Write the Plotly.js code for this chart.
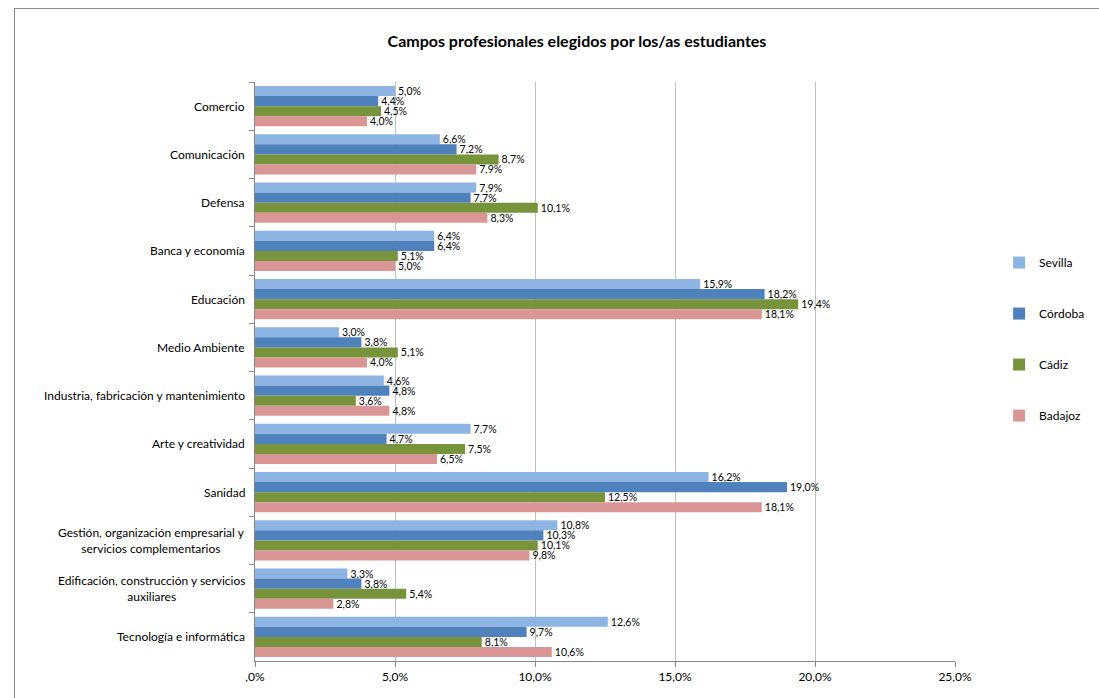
<!DOCTYPE html>
<html>
<head>
<meta charset="utf-8">
<script src="https://cdn.plot.ly/plotly-3.0.1.min.js"></script>
<style>
html,body{margin:0;padding:0;background:#fff;}
#wrap{position:relative;width:1099px;height:698px;overflow:hidden;}
#chart{position:absolute;left:0;top:0;width:1099px;height:698px;}
#frame{position:absolute;left:14px;top:8px;width:1200px;height:800px;border:1px solid #8c8c8c;pointer-events:none;}
</style>
</head>
<body>
<div id="wrap"><div id="chart"></div><div id="frame"></div></div>
<script>
const categories = [
  "Comercio",
  "Comunicación",
  "Defensa",
  "Banca y economía",
  "Educación",
  "Medio Ambiente",
  "Industria, fabricación y mantenimiento",
  "Arte y creatividad",
  "Sanidad",
  "Gestión, organización empresarial y<br>servicios complementarios",
  "Edificación, construcción y servicios<br>auxiliares",
  "Tecnología e informática"
];
const sevilla  = [5.0, 6.6, 7.9, 6.4, 15.9, 3.0, 4.6, 7.7, 16.2, 10.8, 3.3, 12.6];
const cordoba  = [4.4, 7.2, 7.7, 6.4, 18.2, 3.8, 4.8, 4.7, 19.0, 10.3, 3.8, 9.7];
const cadiz    = [4.5, 8.7, 10.1, 5.1, 19.4, 5.1, 3.6, 7.5, 12.5, 10.1, 5.4, 8.1];
const badajoz  = [4.0, 7.9, 8.3, 5.0, 18.1, 4.0, 4.8, 6.5, 18.1, 9.8, 2.8, 10.6];
const seriesNames = ["Sevilla", "Córdoba", "Cádiz", "Badajoz"];
const seriesColors = ["#8EB4E3", "#4F81BD", "#77933C", "#D99694"];
const xTickVals = [0, 5, 10, 15, 20, 25];
const xTickText = [",0%", "5,0%", "10,0%", "15,0%", "20,0%", "25,0%"];

const FONT = "Lato, 'Open Sans', sans-serif";
const allSeries = [sevilla, cordoba, cadiz, badajoz];
const traces = allSeries.map((vals, i) => ({
  type: "bar",
  orientation: "h",
  name: seriesNames[i],
  legendgroup: "g" + i,
  x: vals,
  y: categories,
  marker: {color: seriesColors[i], line: {width: 0}},
  text: vals.map(v => v.toFixed(1).replace(".", ",") + "%"),
  textposition: "outside",
  constraintext: "none",
  cliponaxis: false,
  textfont: {family: FONT, size: 10.5, color: "#000"},
  hoverinfo: "x+name"
}));

const annotations = categories.map(c => ({
  xref: "paper", yref: "y",
  x: 0, y: c,
  xanchor: "right", yanchor: "middle",
  xshift: -8,
  text: c, align: "center",
  showarrow: false,
  font: {family: FONT, size: 12, color: "#000"}
}));

const layout = {
  width: 1099, height: 698,
  margin: {l: 255, r: 144, t: 82, b: 37, autoexpand: false},
  paper_bgcolor: "rgba(0,0,0,0)",
  plot_bgcolor: "#fff",
  separators: ",.",
  font: {family: FONT, size: 12, color: "#000"},
  title: {
    text: "<b>Campos profesionales elegidos por los/as estudiantes</b>",
    font: {family: FONT, size: 16, color: "#000"},
    xref: "container", x: 0.525, xanchor: "center",
    yref: "container", y: 0.94, yanchor: "middle"
  },
  barmode: "group",
  bargap: 0.17,
  bargroupgap: 0,
  xaxis: {
    range: [0, 25],
    tickvals: xTickVals,
    ticktext: xTickText,
    showgrid: true,
    gridcolor: "#BFBFBF",
    gridwidth: 1,
    zeroline: false,
    showline: true,
    linecolor: "#868686",
    ticks: "outside",
    ticklen: 5,
    tickcolor: "#868686",
    tickfont: {family: FONT, size: 12, color: "#000"},
    fixedrange: true
  },
  yaxis: {
    type: "category",
    autorange: "reversed",
    showticklabels: false,
    showline: true,
    linecolor: "#868686",
    ticks: "outside",
    tickson: "boundaries",
    ticklen: 5,
    tickcolor: "#868686",
    showgrid: false,
    zeroline: false,
    fixedrange: true
  },
  legend: {
    x: 1.063, xanchor: "left",
    y: 0.556, yanchor: "middle",
    traceorder: "grouped",
    tracegroupgap: 32,
    font: {family: FONT, size: 12, color: "#000"},
    itemwidth: 30,
    bgcolor: "rgba(0,0,0,0)"
  },
  annotations: annotations,
  showlegend: true
};

Plotly.newPlot("chart", traces, layout, {displayModeBar: false, staticPlot: true});
</script>
</body>
</html>
